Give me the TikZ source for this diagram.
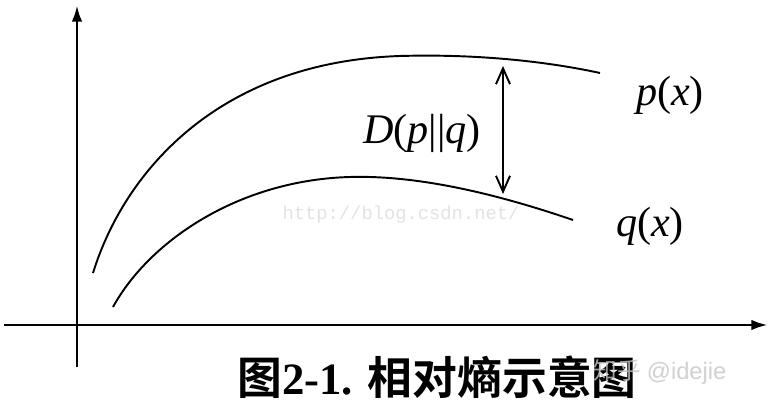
\documentclass[tikz,border=0pt]{standalone}
\usepackage{fontspec}
\setmainfont{Liberation Serif}
\newfontfamily\cjkfont{Noto Sans CJK SC}[BoldFont={Noto Sans CJK SC Bold}]
\newfontfamily\wmmono{Liberation Mono}
\newfontfamily\wmsans{Liberation Sans}
\usetikzlibrary{arrows.meta}

\tikzset{
  axisline/.style={line width=1.7pt, -{Latex[length=9.5pt,width=6pt]}},
  curveline/.style={line width=1.1pt},
  gaparrow/.style={line width=1.1pt,
    {Straight Barb[length=9pt,width=8pt]}-{Straight Barb[length=9pt,width=8pt]}},
  funclabel/.style={font=\fontsize{24}{28}\selectfont, inner sep=0pt},
  watermark/.style={inner sep=0pt},
}

\begin{document}
\begin{tikzpicture}[x=0.02cm, y=-0.02cm]
  % page frame = 775 x 411 px, y runs downwards
  \useasboundingbox[fill=white] (0,0) rectangle (775,411);

  \coordinate (ybot) at (77,367);
  \coordinate (ytop) at (77,5);
  \coordinate (xleft) at (4,325);
  \coordinate (xright) at (768,325);
  \draw[axisline] (ybot) -- (ytop);
  \draw[axisline] (xleft) -- (xright);

  % the two densities
  \draw[curveline] (93,273) .. controls (125,170) and (220,62) .. (400,56)
                            .. controls (470,54) and (540,60) .. (600,73);
  \draw[curveline] (113,307) .. controls (150,240) and (240,180) .. (350,177)
                             .. controls (420,175) and (500,195) .. (573,220);

  \node[watermark, text=gray!22, font=\wmmono\fontsize{10.7}{12}\selectfont]
    (csdn) at (401,215) {http://blog.csdn.net/};

  \coordinate (gaptop) at (503,66);
  \coordinate (gapbot) at (503,194);
  \draw[gaparrow] (gaptop) -- (gapbot);

  \node[funclabel] (dist) at (422,133) {\textit{D}(\textit{p}||\textit{q})};
  \node[funclabel] (plabel) at (670,95) {\textit{p}(\textit{x})};
  \node[funclabel] (qlabel) at (650,226) {\textit{q}(\textit{x})};

  \node[inner sep=0pt, font=\fontsize{25.5}{30}\selectfont\bfseries] (caption) at (437,377)
    {{\cjkfont 图}2-1. {\cjkfont 相对熵示意图}};

  \node[watermark, text=gray!45, opacity=0.8, font=\fontsize{13.5}{15}\selectfont]
    (zhihu) at (660,372) {{\cjkfont 知乎} {\wmsans @idejie}};
\end{tikzpicture}
\end{document}
